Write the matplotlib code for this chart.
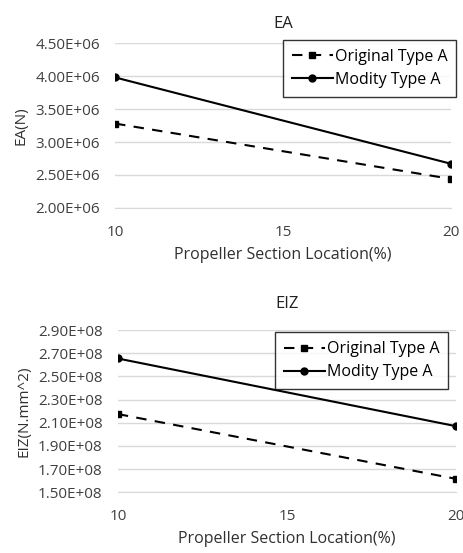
import matplotlib.pyplot as plt
import numpy as np

plt.rcParams['font.family'] = ['Open Sans', 'DejaVu Sans']

########## data ##########
location = [10, 20]
series_names = ['Original Type A', 'Modity Type A']

ea_original = [3.28e6, 2.44e6]
ea_modity = [3.98e6, 2.67e6]
ea_ticks = [2.0e6, 2.5e6, 3.0e6, 3.5e6, 4.0e6, 4.5e6]

eiz_original = [2.175e8, 1.615e8]
eiz_modity = [2.655e8, 2.07e8]
eiz_ticks = [1.5e8, 1.7e8, 1.9e8, 2.1e8, 2.3e8, 2.5e8, 2.7e8, 2.9e8]

xticks = [10, 15, 20]


def sci(v):
    m, e = ('%.2E' % v).split('E')
    return m + 'E' + e[0] + '%02d' % abs(int(e))


def panel(ax, orig, mod, yticks, title, ylabel, title_pad, leg_anchor):
    ax.plot(location, orig, 'k--', marker='s', markersize=4, lw=1.5,
            dashes=(5, 4), label=series_names[0])
    ax.plot(location, mod, 'k-', marker='o', markersize=5, lw=1.5,
            label=series_names[1])
    ax.set_xlim(location[0], location[-1])
    ax.set_ylim(yticks[0], yticks[-1])
    ax.set_xticks(xticks)
    ax.set_yticks(yticks)
    ax.set_yticklabels([sci(t) for t in yticks])
    ax.yaxis.grid(True, color='#d9d9d9', lw=1)
    ax.set_axisbelow(True)
    for s in ['top', 'right', 'left']:
        ax.spines[s].set_visible(False)
    ax.spines['bottom'].set_color('#d9d9d9')
    ax.tick_params(length=0, labelsize=11, colors='#404040')
    ax.tick_params(axis='x', pad=12)
    ax.tick_params(axis='y', pad=11)
    ax.set_title(title, fontsize=12, color='#202020', pad=title_pad)
    ax.set_xlabel('Propeller Section Location(%)', fontsize=11.5,
                  color='#303030', labelpad=5)
    ax.set_ylabel(ylabel, fontsize=11, color='#303030', labelpad=5)
    leg = ax.legend(loc='upper right', fontsize=11.5, frameon=True,
                    fancybox=False, edgecolor='black', handlelength=2.6,
                    handletextpad=0.1, borderpad=0.55, labelspacing=0.45,
                    borderaxespad=0, bbox_to_anchor=leg_anchor,
                    bbox_transform=fig.transFigure)
    leg.get_frame().set_linewidth(1.0)


fig = plt.figure(figsize=(4.64, 5.53), dpi=100)
ax1 = fig.add_axes([0.248, 0.624, 0.724, 0.298])
ax2 = fig.add_axes([0.254, 0.110, 0.729, 0.293])

panel(ax1, ea_original, ea_modity, ea_ticks, 'EA', 'EA(N)', 11,
      (0.983, 0.928))
panel(ax2, eiz_original, eiz_modity, eiz_ticks, 'EIZ', 'EIZ(N.mm^2)', 16,
      (0.966, 0.399))

fig.savefig('out.png', dpi=100)
